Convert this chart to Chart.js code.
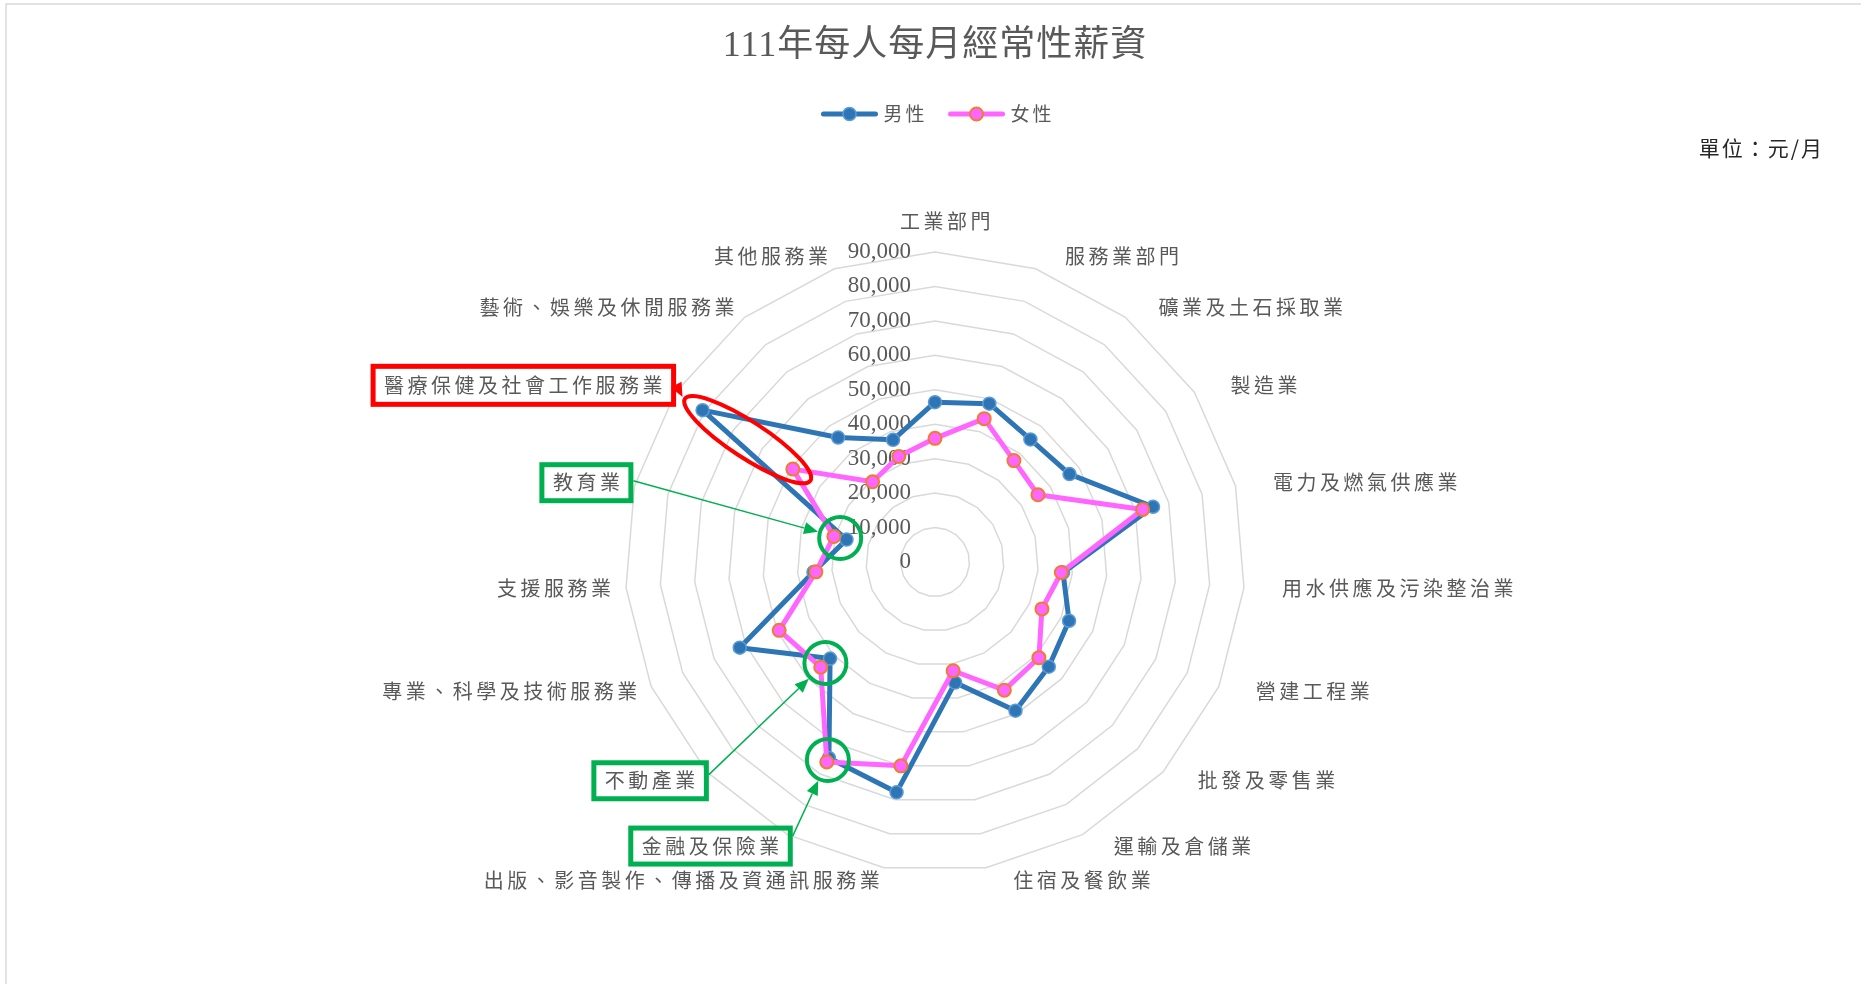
<!DOCTYPE html>
<html>
<head>
<meta charset="utf-8">
<title>111年每人每月經常性薪資</title>
<script src="https://cdn.jsdelivr.net/npm/chart.js@4.4.1/dist/chart.umd.min.js"></script>
<style>
  html, body { margin: 0; padding: 0; background: #fff; }
  canvas { display: block; }
</style>
</head>
<body>
<canvas id="salary" width="1861" height="984"></canvas>
<script>
// 行業別（雷達圖各軸，自正上方順時針）
const industries = [
  '工業部門', '服務業部門', '礦業及土石採取業', '製造業', '電力及燃氣供應業',
  '用水供應及污染整治業', '營建工程業', '批發及零售業', '運輸及倉儲業', '住宿及餐飲業',
  '出版、影音製作、傳播及資通訊服務業', '金融及保險業', '不動產業', '專業、科學及技術服務業',
  '支援服務業', '教育業', '醫療保健及社會工作服務業', '藝術、娛樂及休閒服務業', '其他服務業'
];

// 每人每月經常性薪資（元）
const maleSalary = [46400, 48600, 45100, 46650, 65300, 37300, 42500, 44900, 49100, 35500,
                    67800, 64700, 41400, 61900, 35400, 26500, 80600, 45800, 37500];
const femaleSalary = [35900, 44000, 37300, 35700, 62200, 36800, 33900, 41000, 42300, 32000,
                      60000, 66000, 45100, 49400, 34700, 30300, 49300, 29500, 32400];

const seriesNames = ['男性', '女性'];
const tickValues = [0, 10000, 20000, 30000, 40000, 50000, 60000, 70000, 80000, 90000];

// 加框標示的行業
const greenMarks = ['教育業', '不動產業', '金融及保險業'];
const redMark = '醫療保健及社會工作服務業';

const CJK = "'Noto Sans CJK TC', sans-serif";
const SERIF = "'Liberation Serif', 'Noto Sans CJK TC', serif";
const GRAY_TEXT = '#595959';
const BLUE = '#2E75B6';
const PINK = '#FF66FF';
const GREEN = '#00B050';
const RED = '#FF0000';

function arrow(ctx, x1, y1, x2, y2, color, width) {
  const ang = Math.atan2(y2 - y1, x2 - x1);
  const len = 14, half = 6;
  const bx = x2 - len * Math.cos(ang), by = y2 - len * Math.sin(ang);
  ctx.strokeStyle = color;
  ctx.lineWidth = width;
  ctx.beginPath();
  ctx.moveTo(x1, y1);
  ctx.lineTo(bx, by);
  ctx.stroke();
  ctx.fillStyle = color;
  ctx.beginPath();
  ctx.moveTo(x2, y2);
  ctx.lineTo(bx + half * Math.sin(ang), by - half * Math.cos(ang));
  ctx.lineTo(bx - half * Math.sin(ang), by + half * Math.cos(ang));
  ctx.closePath();
  ctx.fill();
}

// 刻度值、行業名稱、標題、圖例與標示框
const decor = {
  id: 'decor',
  beforeDatasetsDraw(chart) {
    const scale = chart.scales.r;
    const ctx = chart.ctx;
    ctx.save();
    ctx.font = `23px ${SERIF}`;
    ctx.fillStyle = GRAY_TEXT;
    ctx.textAlign = 'right';
    ctx.textBaseline = 'middle';
    tickValues.forEach(v => {
      const y = scale.yCenter - scale.getDistanceFromCenterForValue(v);
      ctx.fillText(v.toLocaleString('en-US'), scale.xCenter - 24, y);
    });
    ctx.restore();
  },
  afterDatasetsDraw(chart) {
    const scale = chart.scales.r;
    const ctx = chart.ctx;
    const n = industries.length;
    const boxes = {};

    // 行業名稱
    ctx.save();
    ctx.font = `20px ${CJK}`;
    ctx.letterSpacing = '3.5px';
    ctx.fillStyle = GRAY_TEXT;
    ctx.textAlign = 'left';
    ctx.textBaseline = 'middle';
    industries.forEach((name, i) => {
      const p = scale.getPointPosition(i, scale.drawingArea + 13);
      const angle = i * 360 / n;
      const w = ctx.measureText(name).width;
      let left, y = p.y;
      if (angle === 0) { left = p.x + 12 - w / 2; y -= 18; }
      else if (angle < 180) left = p.x + 25;
      else left = p.x + 1.5 - w;
      ctx.fillText(name, left, y);
      boxes[name] = { left: left, right: left + w - 3.5, cy: y };
    });
    ctx.restore();

    const male = chart.getDatasetMeta(0).data;
    const female = chart.getDatasetMeta(1).data;

    // 綠色標示：框、箭頭、圈
    ctx.save();
    const startFrac = { '教育業': 0.45, '不動產業': 0.35, '金融及保險業': 0.25 };
    greenMarks.forEach(name => {
      const i = industries.indexOf(name);
      const b = boxes[name];
      const top = b.cy - 18, h = 36;
      ctx.strokeStyle = GREEN;
      ctx.lineWidth = 5;
      ctx.strokeRect(b.left - 11, top, b.right - b.left + 22, h);

      const cx = (male[i].x + female[i].x) / 2;
      const cy = (male[i].y + female[i].y) / 2;
      ctx.lineWidth = 4;
      ctx.beginPath();
      ctx.arc(cx, cy, 21, 0, Math.PI * 2);
      ctx.stroke();

      const sx = b.right + 13.5, sy = top - 2.5 + (h + 5) * startFrac[name];
      const d = Math.hypot(cx - sx, cy - sy);
      const tx = cx - (cx - sx) / d * 23, ty = cy - (cy - sy) / d * 23;
      arrow(ctx, sx, sy, tx, ty, GREEN, 1.5);
    });

    // 紅色標示：框、箭頭、橢圓
    const ri = industries.indexOf(redMark);
    const rb = boxes[redMark];
    ctx.strokeStyle = RED;
    ctx.lineWidth = 5;
    ctx.strokeRect(rb.left - 11, rb.cy - 19, rb.right - rb.left + 22, 38);
    const p1 = male[ri], p2 = female[ri];
    const ex = (p1.x + p2.x) / 2, ey = (p1.y + p2.y) / 2;
    const ang = Math.atan2(p2.y - p1.y, p2.x - p1.x);
    const a = Math.hypot(p2.x - p1.x, p2.y - p1.y) / 2 + 21;
    ctx.lineWidth = 4;
    ctx.beginPath();
    ctx.ellipse(ex, ey, a, 18, ang, 0, Math.PI * 2);
    ctx.stroke();
    arrow(ctx, rb.right + 13.5, rb.cy - 1, ex - (a + 3) * Math.cos(ang), ey - (a + 3) * Math.sin(ang), RED, 2);
    ctx.restore();
  },
  afterDraw(chart) {
    const scale = chart.scales.r;
    const ctx = chart.ctx;
    ctx.save();

    // 外框
    ctx.strokeStyle = '#D9D9D9';
    ctx.lineWidth = 1.5;
    ctx.strokeRect(6, 4, chart.width + 20, chart.height + 20);

    // 標題
    ctx.font = `36px ${SERIF}`;
    ctx.letterSpacing = '1px';
    ctx.fillStyle = GRAY_TEXT;
    ctx.textAlign = 'center';
    ctx.textBaseline = 'middle';
    ctx.fillText('111年每人每月經常性薪資', scale.xCenter, 47);

    // 圖例
    ctx.font = `19px ${CJK}`;
    ctx.letterSpacing = '3px';
    ctx.textAlign = 'left';
    const styles = [
      { line: BLUE, fill: BLUE, border: '#5B9BD5', bw: 1.5 },
      { line: PINK, fill: PINK, border: '#ED7D31', bw: 2 }
    ];
    const lineLen = 56, gap = 6, itemGap = 21;
    const widths = seriesNames.map(s => ctx.measureText(s).width);
    const total = widths.reduce((s, w) => s + lineLen + gap + w, 0) + itemGap;
    let x = scale.xCenter + 3 - total / 2;
    const ly = 114;
    seriesNames.forEach((s, k) => {
      const st = styles[k];
      ctx.strokeStyle = st.line;
      ctx.lineWidth = 5;
      ctx.lineCap = 'round';
      ctx.beginPath();
      ctx.moveTo(x + 2, ly);
      ctx.lineTo(x + lineLen - 2, ly);
      ctx.stroke();
      ctx.beginPath();
      ctx.arc(x + lineLen / 2, ly, 6.5, 0, Math.PI * 2);
      ctx.fillStyle = st.fill;
      ctx.fill();
      ctx.strokeStyle = st.border;
      ctx.lineWidth = st.bw;
      ctx.stroke();
      ctx.fillStyle = GRAY_TEXT;
      ctx.fillText(s, x + lineLen + gap, ly);
      x += lineLen + gap + widths[k] + itemGap;
    });

    // 單位
    ctx.font = `21px ${CJK}`;
    ctx.letterSpacing = '2px';
    ctx.fillStyle = '#262626';
    ctx.textAlign = 'right';
    ctx.fillText('單位：元/月', 1824, 148);
    ctx.restore();
  }
};

new Chart(document.getElementById('salary'), {
  type: 'radar',
  data: {
    labels: industries,
    datasets: [{
      label: seriesNames[0],
      data: maleSalary,
      borderColor: BLUE,
      borderWidth: 5,
      borderJoinStyle: 'round',
      pointRadius: 6.5,
      pointBackgroundColor: BLUE,
      pointBorderColor: '#5B9BD5',
      pointBorderWidth: 1.5,
      fill: false,
      order: 2
    }, {
      label: seriesNames[1],
      data: femaleSalary,
      borderColor: PINK,
      borderWidth: 5,
      borderJoinStyle: 'round',
      pointRadius: 6.5,
      pointBackgroundColor: PINK,
      pointBorderColor: '#ED7D31',
      pointBorderWidth: 2,
      fill: false,
      order: 1
    }]
  },
  options: {
    responsive: false,
    animation: false,
    events: [],
    layout: {
      padding: { top: 252, bottom: 112, left: 625, right: 616 }
    },
    plugins: {
      legend: { display: false },
      title: { display: false },
      tooltip: { enabled: false }
    },
    scales: {
      r: {
        min: 0,
        max: 90000,
        beginAtZero: true,
        ticks: { display: false, stepSize: 10000 },
        pointLabels: { display: false },
        angleLines: { display: false },
        grid: { color: '#D9D9D9', lineWidth: 1.5 }
      }
    }
  },
  plugins: [decor]
});
</script>
</body>
</html>
